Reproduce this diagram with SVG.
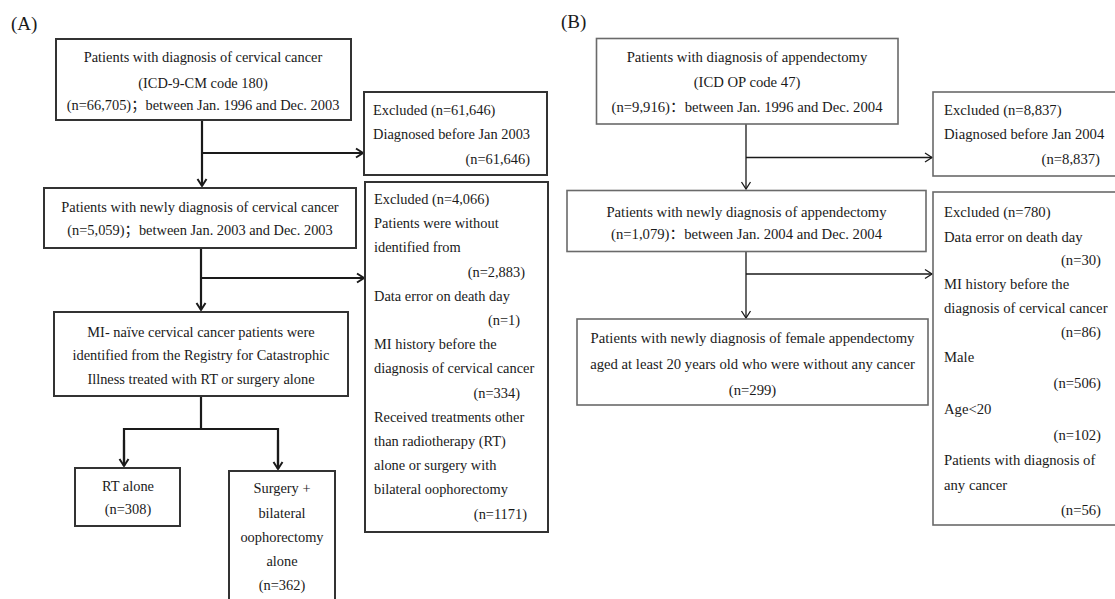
<svg xmlns="http://www.w3.org/2000/svg" width="1115" height="599" viewBox="0 0 1115 599">
<style>
text{font-family:"Liberation Serif","Noto Sans CJK SC",serif;font-size:14.4px;fill:#1a1a1a}
.b text{font-size:14.7px}
.lab{font-size:19px}
.c{text-anchor:middle}
.r{text-anchor:end}
.boxA{fill:#fff;stroke:#333;stroke-width:2}
.boxB{fill:#fff;stroke:#6a6a6a;stroke-width:1.6}
.lnA{fill:none;stroke:#1a1a1a;stroke-width:2.2}
.lnB{fill:none;stroke:#1a1a1a;stroke-width:1.3}
</style>
<defs>
<marker id="arA" markerUnits="userSpaceOnUse" markerWidth="14" markerHeight="14" viewBox="-10 -7 12 14" refX="0" refY="0" orient="auto">
<path d="M-7,-4.5 L0,0 L-7,4.5" fill="none" stroke="#1a1a1a" stroke-width="2"/>
</marker>
<marker id="arB" markerUnits="userSpaceOnUse" markerWidth="14" markerHeight="14" viewBox="-10 -7 12 14" refX="0" refY="0" orient="auto">
<path d="M-7,-4.5 L0,0 L-7,4.5" fill="none" stroke="#1a1a1a" stroke-width="1.3"/>
</marker>
</defs>
<rect width="1115" height="599" fill="#fff"/>

<text class="lab" x="11" y="30">(A)</text>
<text class="lab" x="561" y="28">(B)</text>

<g id="connectors">
<line class="lnA" x1="202" y1="120" x2="202" y2="186" marker-end="url(#arA)"/>
<line class="lnA" x1="202" y1="153" x2="363" y2="153" marker-end="url(#arA)"/>
<line class="lnA" x1="201" y1="248" x2="201" y2="310" marker-end="url(#arA)"/>
<line class="lnA" x1="201" y1="278" x2="364" y2="278" marker-end="url(#arA)"/>
<line class="lnA" x1="201" y1="396" x2="201" y2="429"/>
<polyline class="lnA" points="124,466 124,429 278,429 278,469" fill="none"/>
<line class="lnA" x1="124" y1="440" x2="124" y2="466" marker-end="url(#arA)"/>
<line class="lnA" x1="278" y1="440" x2="278" y2="469" marker-end="url(#arA)"/>
<line class="lnB" x1="746" y1="124" x2="746" y2="189" marker-end="url(#arB)"/>
<line class="lnB" x1="746" y1="157.5" x2="932" y2="157.5" marker-end="url(#arB)"/>
<line class="lnB" x1="746" y1="252" x2="746" y2="318" marker-end="url(#arB)"/>
<line class="lnB" x1="746" y1="274" x2="932" y2="274" marker-end="url(#arB)"/>
</g>

<g id="a-total">
<rect class="boxA" x="56" y="39" width="295" height="81"/>
<text class="c" x="203" y="62">Patients with diagnosis of cervical cancer</text>
<text class="c" x="203" y="88">(ICD-9-CM code 180)</text>
<text class="c" x="203" y="110">(n=66,705)；between Jan. 1996 and Dec. 2003</text>
</g>

<g id="a-excluded1">
<rect class="boxA" x="364" y="92" width="183" height="83"/>
<text x="373" y="115">Excluded (n=61,646)</text>
<text x="373" y="139">Diagnosed before Jan 2003</text>
<text class="r" x="530" y="164">(n=61,646)</text>
</g>

<g id="a-newly">
<rect class="boxA" x="44" y="188" width="312" height="60"/>
<text class="c" x="200" y="212">Patients with newly diagnosis of cervical cancer</text>
<text class="c" x="200" y="235">(n=5,059)；between Jan. 2003 and Dec. 2003</text>
</g>

<g id="a-excluded2">
<rect class="boxA" x="365" y="182" width="183" height="350"/>
<text x="374" y="204">Excluded (n=4,066)</text>
<text x="374" y="228.2">Patients were without</text>
<text x="374" y="252.4">identified from</text>
<text class="r" x="525" y="276.6">(n=2,883)</text>
<text x="374" y="300.8">Data error on death day</text>
<text class="r" x="520" y="325">(n=1)</text>
<text x="374" y="349.2">MI history before the</text>
<text x="374" y="373.4">diagnosis of cervical cancer</text>
<text class="r" x="520" y="397.6">(n=334)</text>
<text x="374" y="421.8">Received treatments other</text>
<text x="374" y="446">than radiotherapy (RT)</text>
<text x="374" y="470.2">alone or surgery with</text>
<text x="374" y="494.4">bilateral oophorectomy</text>
<text class="r" x="527" y="518.6">(n=1171)</text>
</g>

<g id="a-naive">
<rect class="boxA" x="54" y="312" width="294" height="84"/>
<text class="c" x="201" y="337">MI- naïve cervical cancer patients were</text>
<text class="c" x="201" y="360">identified from the Registry for Catastrophic</text>
<text class="c" x="201" y="384">Illness treated with RT or surgery alone</text>
</g>

<g id="a-rt">
<rect class="boxA" x="75" y="468" width="105" height="58"/>
<text class="c" x="128" y="491">RT alone</text>
<text class="c" x="128" y="514">(n=308)</text>
</g>

<g id="a-surgery">
<rect class="boxA" x="229" y="471" width="106" height="140"/>
<text class="c" x="282" y="493">Surgery +</text>
<text class="c" x="282" y="517.5">bilateral</text>
<text class="c" x="282" y="541.5">oophorectomy</text>
<text class="c" x="282" y="565.5">alone</text>
<text class="c" x="282" y="590">(n=362)</text>
</g>

<g class="b">
<g id="b-total">
<rect class="boxB" x="596.5" y="38.5" width="301.5" height="85.5"/>
<text class="c" x="747" y="62">Patients with diagnosis of appendectomy</text>
<text class="c" x="747" y="87">(ICD OP code 47)</text>
<text class="c" x="747" y="112">(n=9,916)：between Jan. 1996 and Dec. 2004</text>
</g>

<g id="b-excluded1">
<rect class="boxB" x="933" y="92" width="190" height="84"/>
<text x="944" y="115">Excluded (n=8,837)</text>
<text x="944" y="138.5">Diagnosed before Jan 2004</text>
<text class="r" x="1100" y="164">(n=8,837)</text>
</g>

<g id="b-newly">
<rect class="boxB" x="567" y="190.5" width="359" height="61"/>
<text class="c" x="746.5" y="216.5">Patients with newly diagnosis of appendectomy</text>
<text class="c" x="746.5" y="238.5">(n=1,079)：between Jan. 2004 and Dec. 2004</text>
</g>

<g id="b-female">
<rect class="boxB" x="577" y="319" width="351" height="86"/>
<text class="c" x="752.5" y="343">Patients with newly diagnosis of female appendectomy</text>
<text class="c" x="752.5" y="369">aged at least 20 years old who were without any cancer</text>
<text class="c" x="752.5" y="395">(n=299)</text>
</g>

<g id="b-excluded2">
<rect class="boxB" x="933" y="192" width="190" height="333"/>
<text x="944" y="217">Excluded (n=780)</text>
<text x="944" y="241.7">Data error on death day</text>
<text class="r" x="1101" y="265">(n=30)</text>
<text x="944" y="289.3">MI history before the</text>
<text x="944" y="313.3">diagnosis of cervical cancer</text>
<text class="r" x="1101" y="337">(n=86)</text>
<text x="944" y="362">Male</text>
<text class="r" x="1101" y="388">(n=506)</text>
<text x="944" y="414">Age&lt;20</text>
<text class="r" x="1101" y="440">(n=102)</text>
<text x="944" y="465">Patients with diagnosis of</text>
<text x="944" y="490">any cancer</text>
<text class="r" x="1101" y="515">(n=56)</text>
</g>
</g>
</svg>
